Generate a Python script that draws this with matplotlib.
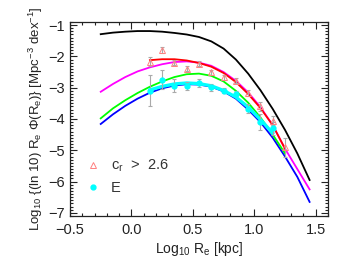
import numpy as np
import matplotlib
matplotlib.use('Agg')
import matplotlib.pyplot as plt
from matplotlib.ticker import MultipleLocator

plt.rcParams['font.family'] = ['Liberation Sans', 'DejaVu Sans']
plt.rcParams['mathtext.fontset'] = 'custom'
plt.rcParams['mathtext.rm'] = 'Liberation Sans'
plt.rcParams['mathtext.it'] = 'Liberation Sans'

# model curves, log10 Re [kpc] vs log10 size function
x_full = [-0.25, -0.15, -0.05, 0.05, 0.15, 0.25, 0.35, 0.45, 0.55, 0.65,
          0.75, 0.85, 0.95, 1.05, 1.15, 1.25, 1.35, 1.45]
black = [-1.29, -1.24, -1.21, -1.19, -1.19, -1.21, -1.25, -1.30, -1.38, -1.52,
         -1.75, -2.10, -2.55, -3.08, -3.68, -4.35, -5.10, -5.95]
magenta = [-3.13, -2.88, -2.66, -2.48, -2.35, -2.25, -2.18, -2.16, -2.20, -2.30,
           -2.50, -2.78, -3.15, -3.62, -4.20, -4.95, -5.60, -6.25]
blue = [-4.16, -3.85, -3.58, -3.35, -3.16, -3.02, -2.93, -2.89, -2.90, -2.97,
        -3.12, -3.35, -3.70, -4.10, -4.60, -5.20, -5.85, -6.65]

x_green = x_full[:16]
green = [-3.98, -3.66, -3.40, -3.17, -2.97, -2.80, -2.66, -2.57, -2.55, -2.62,
         -2.80, -3.10, -3.48, -3.95, -4.50, -5.10]

x_red = [0.15, 0.25, 0.35, 0.45, 0.55, 0.65, 0.75, 0.85, 0.95, 1.05, 1.15, 1.25]
red = [-2.12, -2.09, -2.09, -2.13, -2.21, -2.33, -2.53, -2.82, -3.20, -3.65, -4.20, -4.95]

x_cyan = [0.15, 0.25, 0.35, 0.45, 0.55, 0.65, 0.75, 0.85, 0.95, 1.05, 1.15]
cyan = [-3.07, -2.96, -2.88, -2.85, -2.87, -2.94, -3.09, -3.30, -3.62, -4.02, -4.45]

# data points
x_tri = [0.15, 0.25, 0.35, 0.45, 0.55, 0.65, 0.75, 0.85, 0.95, 1.05, 1.15, 1.25]
y_tri = [-2.17, -1.79, -2.20, -2.40, -2.23, -2.50, -2.67, -2.78, -3.18, -3.60, -4.05, -4.90]
e_tri = [0.15, 0.10, 0.08, 0.08, 0.08, 0.08, 0.08, 0.08, 0.10, 0.15, 0.15, 0.30]

x_e = [0.15, 0.25, 0.35, 0.45, 0.55, 0.65, 0.75, 0.85, 0.95, 1.05, 1.15]
y_e = [-3.10, -2.75, -2.93, -2.95, -2.85, -2.99, -3.10, -3.20, -3.67, -4.09, -4.30]
e_e = [0.50, 0.30, 0.22, 0.12, 0.12, 0.10, 0.08, 0.08, 0.15, 0.25, 0.20]

fig = plt.figure(figsize=(3.49, 2.62), dpi=100)
ax = fig.add_axes([0.2006, 0.1756, 0.7393, 0.7405])

lw = 1.3
ax.plot(x_full, black, color='black', lw=lw)
ax.plot(x_full, magenta, color='#ff00ff', lw=lw)
ax.plot(x_full, blue, color='#0000ff', lw=lw)
ax.plot(x_green, green, color='#00ff00', lw=lw)
ax.plot(x_red, red, color='#ff0000', lw=lw)
ax.plot(x_cyan, cyan, color='#00ffff', lw=2.4)

ax.errorbar(x_tri, y_tri, yerr=e_tri, fmt='none', ecolor='#aaaaaa', elinewidth=0.8,
            capsize=1.5, capthick=0.8)
ax.errorbar(x_e, y_e, yerr=e_e, fmt='none', ecolor='#aaaaaa', elinewidth=0.8,
            capsize=1.5, capthick=0.8)
h1, = ax.plot(x_tri, y_tri, '^', ms=4, mfc='none', mec='#ff8080', mew=0.7, ls='none',
              label=r'c$_r$  >  2.6')
h2, = ax.plot(x_e, y_e, 'o', ms=3.5, mfc='#00ffff', mec='#00ffff', ls='none', label='E')

ax.legend(handles=[h1, h2], loc='upper left', bbox_to_anchor=(0.05, 0.33), frameon=False,
          fontsize=10.5, handlelength=0.6, handletextpad=0.9, labelspacing=0.45,
          labelcolor='#333333', borderaxespad=0)

ax.set_xlim(-0.5, 1.6)
ax.set_ylim(-7.1, -0.9)
ax.xaxis.set_major_locator(MultipleLocator(0.5))
ax.xaxis.set_minor_locator(MultipleLocator(0.1))
ax.yaxis.set_major_locator(MultipleLocator(1))
ax.yaxis.set_minor_locator(MultipleLocator(0.1))
ax.tick_params(which='both', direction='in', top=True, right=True, labelsize=10.5,
               colors='#222222', width=0.8)
ax.tick_params(which='major', length=5)
ax.tick_params(which='minor', length=2.5)
ax.tick_params(axis='x', pad=5)
ax.tick_params(axis='y', pad=4)
for s in ax.spines.values():
    s.set_linewidth(0.9)
    s.set_color('#222222')

ax.set_xlabel(r'Log$_{10}$ R$_e$ [kpc]', fontsize=10, color='#222222', labelpad=2)
ax.set_ylabel(r'Log$_{10}$ {(ln 10) R$_e$ $\Phi$(R$_e$)} [Mpc$^{-3}$ dex$^{-1}$]',
              fontsize=9.5, color='#222222', labelpad=2)

fig.savefig('out.png', dpi=100)
